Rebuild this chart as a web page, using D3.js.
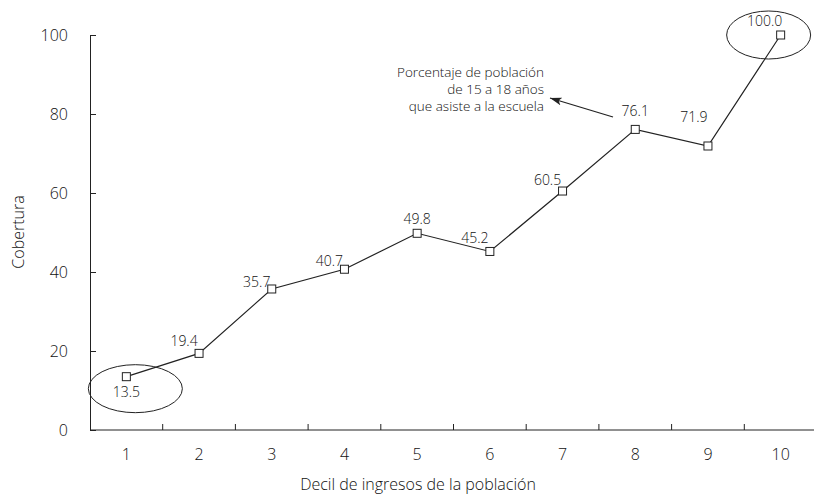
<!DOCTYPE html>
<html>
<head>
<meta charset="utf-8">
<script src="https://cdn.jsdelivr.net/npm/d3@7"></script>
<style>
  body { margin: 0; background: #fff; }
  svg { font-family: "Open Sans", sans-serif; font-weight: 300; }
  .axis path, .axis line { stroke: #222; }
  .tick text { font-size: 16px; fill: #111; }
</style>
</head>
<body>
<script>
//chart values
var deciles = ["1", "2", "3", "4", "5", "6", "7", "8", "9", "10"];
var cobertura = [13.5, 19.4, 35.7, 40.7, 49.8, 45.2, 60.5, 76.1, 71.9, 100.0];
var yTicks = [0, 20, 40, 60, 80, 100];
//label placement relative to marker (dx, dy)
var labelDx = [0, -15, -15, -15, 0, -15, -15, 0, -14, -16];
var labelDy = [20, -7, -2, -3, -9, -8, -6, -13, -24, -9];
var noteLines = ["Porcentaje de población", "de 15 a 18 años", "que asiste a la escuela"];

window.onload = drawChart();

function drawChart(){
    var width = 814, height = 499;
    var svg = d3.select("body")
        .append("svg")
        .attr("width", width)
        .attr("height", height);

    //scales
    var x = d3.scaleBand()
        .domain(deciles)
        .range([90, 817]);
    var y = d3.scaleLinear()
        .domain([0, 100])
        .range([430, 35]);

    //x axis: ticks on band edges, pointing up
    var xAxis = svg.append("g")
        .attr("class", "axis")
        .attr("transform", "translate(0,430)");
    xAxis.append("line")
        .attr("x1", 90).attr("x2", 817)
        .attr("y1", 0).attr("y2", 0)
        .attr("stroke", "#222");
    xAxis.selectAll(".edge")
        .data(deciles.slice(1))
        .enter()
        .append("line")
        .attr("class", "edge")
        .attr("x1", function(d){ return x(d); })
        .attr("x2", function(d){ return x(d); })
        .attr("y1", 0).attr("y2", -6)
        .attr("stroke", "#222");
    xAxis.selectAll(".xlab")
        .data(deciles)
        .enter()
        .append("text")
        .attr("class", "xlab")
        .attr("x", function(d){ return x(d) + x.bandwidth() / 2; })
        .attr("y", 30)
        .attr("text-anchor", "middle")
        .style("font-size", "16px")
        .attr("fill", "#111")
        .text(function(d){ return d; });

    //y axis: ticks pointing inward
    var yAxis = svg.append("g")
        .attr("class", "axis")
        .attr("transform", "translate(90,0)")
        .call(d3.axisLeft(y).tickValues(yTicks).tickSizeInner(-6).tickSizeOuter(0).tickPadding(22))
        .attr("font-family", null)
        .attr("font-size", null);
    yAxis.select(".domain").attr("stroke", "#222");

    //axis titles
    svg.append("text")
        .attr("transform", "translate(24,232) rotate(-90)")
        .attr("text-anchor", "middle")
        .style("font-size", "16px")
        .attr("fill", "#111")
        .text("Cobertura");
    svg.append("text")
        .attr("x", 418)
        .attr("y", 490)
        .attr("text-anchor", "middle")
        .style("font-size", "16px")
        .attr("fill", "#111")
        .text("Decil de ingresos de la población");

    var cx = function(i){ return x(deciles[i]) + x.bandwidth() / 2; };

    //ellipses around first and last value
    var ends = [0, cobertura.length - 1];
    svg.selectAll(".ring")
        .data(ends)
        .enter()
        .append("ellipse")
        .attr("class", "ring")
        .attr("cx", function(i){ return i == 0 ? cx(i) + 9 : cx(i) - 12; })
        .attr("cy", function(i){ return i == 0 ? y(cobertura[i]) + 12 : y(cobertura[i]); })
        .attr("rx", function(i){ return i == 0 ? 47 : 42; })
        .attr("ry", 24)
        .attr("fill", "none")
        .attr("stroke", "#222");

    //line
    var line = d3.line()
        .x(function(d, i){ return cx(i); })
        .y(function(d){ return y(d); });
    svg.append("path")
        .datum(cobertura)
        .attr("d", line)
        .attr("fill", "none")
        .attr("stroke", "#222")
        .attr("stroke-width", 1.2);

    //markers
    svg.selectAll(".marker")
        .data(cobertura)
        .enter()
        .append("rect")
        .attr("class", "marker")
        .attr("x", function(d, i){ return cx(i) - 4; })
        .attr("y", function(d){ return y(d) - 4; })
        .attr("width", 8)
        .attr("height", 8)
        .attr("fill", "#fff")
        .attr("stroke", "#222");

    //value labels
    svg.selectAll(".numbers")
        .data(cobertura)
        .enter()
        .append("text")
        .attr("class", "numbers")
        .attr("x", function(d, i){ return cx(i) + labelDx[i]; })
        .attr("y", function(d, i){ return y(d) + labelDy[i]; })
        .attr("text-anchor", "middle")
        .style("font-size", "14px")
        .attr("fill", "#111")
        .text(function(d){ return d.toFixed(1); });

    //annotation
    svg.selectAll(".note")
        .data(noteLines)
        .enter()
        .append("text")
        .attr("class", "note")
        .attr("x", 544)
        .attr("y", function(d, i){ return 77 + i * 17; })
        .attr("text-anchor", "end")
        .style("font-size", "13.5px")
        .attr("fill", "#111")
        .text(function(d){ return d; });

    //arrow head drawn in user units
    svg.append("defs").append("marker")
        .attr("id", "head")
        .attr("viewBox", "0 0 12 8")
        .attr("refX", 12).attr("refY", 4)
        .attr("markerUnits", "userSpaceOnUse")
        .attr("markerWidth", 12).attr("markerHeight", 8)
        .attr("orient", "auto")
        .append("path")
        .attr("d", "M0,0 L12,4 L0,8 L3,4 Z")
        .attr("fill", "#222");
    svg.append("line")
        .attr("x1", 613).attr("y1", 117)
        .attr("x2", 550).attr("y2", 98)
        .attr("stroke", "#222")
        .attr("stroke-width", 1.3)
        .attr("marker-end", "url(#head)");
};
</script>
</body>
</html>
